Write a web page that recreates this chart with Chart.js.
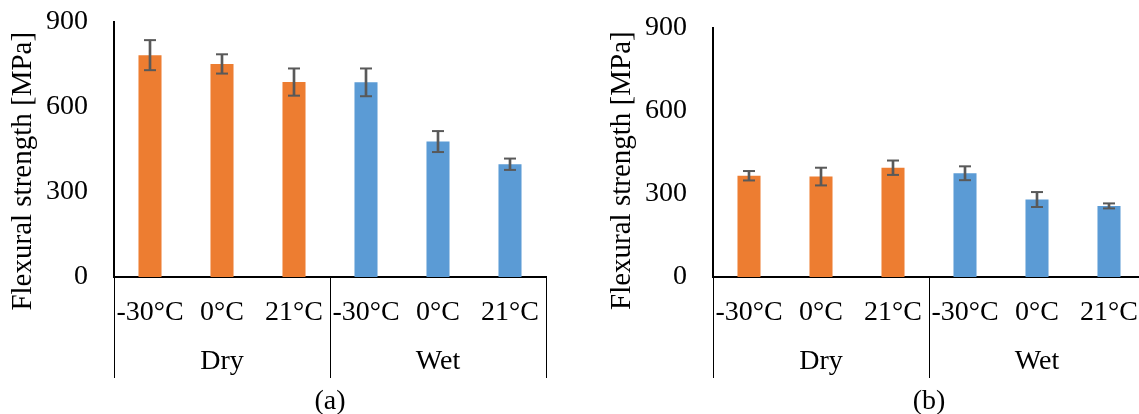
<!DOCTYPE html>
<html>
<head>
<meta charset="utf-8">
<script src="https://cdn.jsdelivr.net/npm/chart.js@4.4.1/dist/chart.umd.min.js"></script>
<style>
html,body{margin:0;padding:0;background:#fff;overflow:hidden;width:1139px;height:414px;position:relative;}
canvas{position:absolute;top:0;}
#ca{left:0;}
#cb{left:599px;}
</style>
</head>
<body>
<canvas id="ca" width="560" height="414"></canvas>
<canvas id="cb" width="560" height="414"></canvas>
<script>
// ---- data ----
const temperatures = ['-30°C', '0°C', '21°C', '-30°C', '0°C', '21°C'];
const categoryGroup = ['Dry', 'Dry', 'Dry', 'Wet', 'Wet', 'Wet'];
const conditions = ['Dry', 'Wet'];
const yTicks = [0, 300, 600, 900];
const strengthA = [783, 752, 688, 687, 478, 398];
const errorA = [53, 34, 48, 49, 37, 20];
const strengthB = [366, 363, 395, 375, 280, 257];
const errorB = [17, 32, 26, 25, 27, 9];
const yTitle = 'Flexural strength [MPa]';
const panelA = '(a)';
const panelB = '(b)';

// ---- styles ----
const conditionColors = { Dry: '#ED7D31', Wet: '#5B9BD5' };
const errColor = '#595959';
const FONT = "'Liberation Serif', 'Times New Roman', serif";

function build(id, values, errors, panel, topPad, titleShift) {
  const tickFont = { family: FONT, size: 28 };
  const capDataset = (arr) => ({
    type: 'line',
    data: arr,
    showLine: false,
    pointStyle: 'line',
    pointRadius: 6,
    pointHoverRadius: 6,
    pointBorderWidth: 2,
    pointBorderColor: errColor,
    borderColor: errColor,
    order: 1
  });
  new Chart(document.getElementById(id), {
    type: 'bar',
    data: {
      labels: temperatures,
      datasets: [
        capDataset(values.map((v, i) => v + errors[i])),
        capDataset(values.map((v, i) => v - errors[i])),
        {
          type: 'bar',
          data: values.map((v, i) => [v - errors[i], v + errors[i]]),
          backgroundColor: errColor,
          barThickness: 2,
          grouped: false,
          order: 2
        },
        {
          type: 'bar',
          data: values,
          backgroundColor: categoryGroup.map(g => conditionColors[g]),
          barPercentage: 0.32,
          categoryPercentage: 1,
          grouped: false,
          order: 3
        }
      ]
    },
    options: {
      responsive: false,
      animation: false,
      devicePixelRatio: 1,
      events: [],
      layout: { padding: { top: topPad, right: 14, left: 0, bottom: 0 } },
      plugins: { legend: { display: false }, tooltip: { enabled: false } },
      scales: {
        y: {
          min: 0,
          max: 900,
          afterBuildTicks: s => { s.ticks = yTicks.map(v => ({ value: v })); },
          afterFit: s => { s.width = 114; s.paddingTop = 0; s.paddingBottom = 0; },
          grid: { display: false, drawTicks: false },
          border: { display: true, color: '#000', width: 2 },
          ticks: { font: tickFont, color: '#000', padding: 26 },
          title: {
            display: true,
            text: yTitle + ' '.repeat(titleShift),
            font: { family: FONT, size: 29 },
            color: '#000',
            padding: { top: 6, bottom: 0 }
          }
        },
        x: {
          weight: 0,
          offset: true,
          afterFit: s => { s.height = 52; },
          grid: {
            display: true,
            drawOnChartArea: false,
            drawTicks: true,
            tickLength: 101,
            offset: true,
            lineWidth: 1,
            color: ctx => (ctx.index === undefined || ctx.index % 3 === 0) ? '#000' : 'rgba(0,0,0,0)'
          },
          border: { display: true, color: '#000', width: 2 },
          ticks: { font: tickFont, color: '#000', padding: -82, autoSkip: false, maxRotation: 0, minRotation: 0 }
        },
        x2: {
          type: 'category',
          position: 'bottom',
          labels: conditions,
          offset: true,
          weight: 1,
          afterFit: s => { s.height = 85; },
          grid: { display: false, drawTicks: false },
          border: { display: false },
          ticks: { font: tickFont, color: '#000', padding: 16, autoSkip: false, maxRotation: 0, minRotation: 0 },
          title: { display: true, text: panel, font: tickFont, color: '#000', padding: { top: 0, bottom: -4 } }
        }
      }
    }
  });
}

build('ca', strengthA, errorA, panelA, 22, 6);
build('cb', strengthB, errorB, panelB, 28, 5);
</script>
</body>
</html>
